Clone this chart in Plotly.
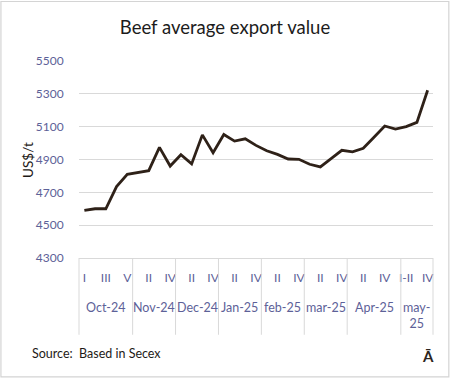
import plotly.graph_objects as go

# ---- data ----
months = ["Oct-24", "Nov-24", "Dec-24", "Jan-25", "feb-25", "mar-25", "Apr-25", "may-25"]
month_weeks = [
    ["I", "II", "III", "IV", "V"],
    ["I", "II", "III", "IV"],
    ["I", "II", "III", "IV"],
    ["I", "II", "III", "IV"],
    ["I", "II", "III", "IV"],
    ["I", "II", "III", "IV"],
    ["I", "II", "III", "IV", "V"],
    ["I-II", "III", "IV"],
]
values = [4590, 4600, 4600, 4735, 4810, 4820, 4832, 4974, 4860, 4929, 4873,
          5050, 4941, 5052, 5012, 5026, 4986, 4953, 4931, 4903, 4901, 4871,
          4855, 4905, 4956, 4947, 4968, 5035, 5104, 5085, 5100, 5126, 5322]
y_ticks = [4300, 4500, 4700, 4900, 5100, 5300, 5500]

title = "Beef average export value"
y_title = "US$/t"
source = "Source:  Based in Secex"
logo = "Ā"

# ---- derived ----
week_labels = [w for ws in month_weeks for w in ws]
xs = list(range(len(week_labels)))
n = len(xs)

W, H = 450, 379
ml, mr, mt, mb = 79, 17.3, 60.7, 120.7
pw = W - ml - mr
ph = H - mt - mb

FONT = "Lato, 'Open Sans', sans-serif"
TICK_COLOR = "#5d6198"
GRID = "#d9d9d9"

fig = go.Figure()
fig.add_trace(go.Scatter(
    x=xs, y=values, mode="lines",
    line=dict(color="#2e2118", width=2.8),
    hoverinfo="skip", showlegend=False,
))

shapes = []
annotations = []
# month separators and labels
start = 0
bounds = [-0.5]
for m, ws in zip(months, month_weeks):
    cnt = len(ws)
    end = start + cnt
    bounds.append(end - 0.5)
    label = m if cnt >= 4 else m.replace("-", "-<br>")
    annotations.append(dict(
        x=(start + end - 1) / 2, xref="x", y=0, yref="paper",
        text=label, showarrow=False, xanchor="center", yanchor="top",
        yshift=-40, font=dict(family=FONT, size=12.5, color=TICK_COLOR),
    ))
    start = end
for b in bounds:
    shapes.append(dict(
        type="line", xref="paper", yref="paper",
        x0=(b + 0.5) / n, x1=(b + 0.5) / n, y0=0, y1=-77 / ph,
        line=dict(color=GRID, width=1),
    ))

# border around the picture
shapes.append(dict(
    type="rect", xref="paper", yref="paper",
    x0=(1 - ml) / pw, x1=(W - 1.5 - ml) / pw,
    y0=-(H - 1.5 - (mt + ph)) / ph,
    y1=(mt + ph - 1) / ph,
    line=dict(color="#d4d4d4", width=1.2), fillcolor="rgba(0,0,0,0)",
))

annotations.append(dict(
    x=(30 - ml) / pw, xref="paper", y=(mt + ph - 354) / ph, yref="paper",
    text=source, showarrow=False, xanchor="left", yanchor="middle",
    font=dict(family=FONT, size=12.5, color="#1e1a17"),
))
annotations.append(dict(
    x=(428 - ml) / pw, xref="paper", y=(mt + ph - 357) / ph, yref="paper",
    text="<b>" + logo + "</b>", showarrow=False, xanchor="center", yanchor="middle",
    font=dict(family=FONT, size=15, color="#2b2420"),
))
# y axis title
annotations.append(dict(
    x=(27.5 - ml) / pw, xref="paper", y=0.5, yref="paper",
    text=y_title, showarrow=False, textangle=-90,
    xanchor="center", yanchor="middle",
    font=dict(family=FONT, size=13.5, color="#1e1a17"),
))

tickvals = xs[::2]
ticktext = [week_labels[i] for i in tickvals]

fig.update_layout(
    width=W, height=H,
    margin=dict(l=ml, r=mr, t=mt, b=mb, pad=0, autoexpand=False),
    paper_bgcolor="white", plot_bgcolor="white",
    title=dict(text=title, x=0.5, xref="container", xanchor="center",
               y=1 - 28 / H, yref="container", yanchor="middle",
               font=dict(family=FONT, size=18.5, color="#1c1c1c")),
    xaxis=dict(
        range=[-0.5, n - 0.5], tickmode="array", tickvals=tickvals, ticktext=ticktext,
        showgrid=False, zeroline=False, showline=True, linecolor=GRID, linewidth=1,
        ticks="outside", ticklen=9, tickcolor="rgba(0,0,0,0)",
        tickfont=dict(family=FONT, size=12, color=TICK_COLOR), tickangle=0,
        automargin=False, fixedrange=True,
    ),
    yaxis=dict(
        range=[y_ticks[0], y_ticks[-1]], tickmode="array", tickvals=y_ticks,
        showgrid=True, gridcolor=GRID, gridwidth=1, zeroline=False, showline=False,
        ticks="outside", ticklen=12, tickcolor="rgba(0,0,0,0)",
        tickfont=dict(family=FONT, size=12, color=TICK_COLOR),
        automargin=False, fixedrange=True,
    ),
    shapes=shapes, annotations=annotations,
)

fig.write_html(
    "out.html",
    config={"displayModeBar": False},
    post_script="document.body.style.margin='0';document.body.style.overflow='hidden';",
)
